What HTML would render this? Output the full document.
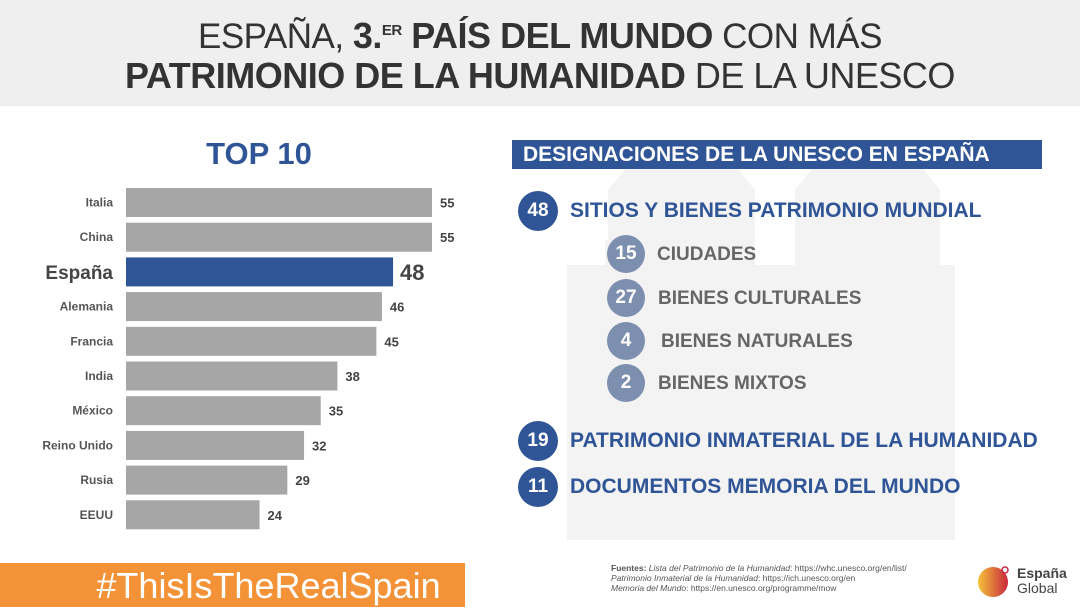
<!DOCTYPE html>
<html><head><meta charset="utf-8"><style>
*{margin:0;padding:0;box-sizing:border-box}
body{width:1080px;height:607px;overflow:hidden;background:#fff;font-family:"Liberation Sans",sans-serif;position:relative}
.abs{position:absolute}
.hdr{left:0;top:0;width:1080px;height:106px;background:#efefef}
.t{width:1080px;text-align:center;color:#333;font-size:36px;letter-spacing:-0.5px}
.circ{border-radius:50%;color:#fff;font-weight:bold;text-align:center;font-size:19px}
.big{width:40px;height:40px;line-height:40px;background:#2f5597}
.sm{width:38px;height:38px;line-height:38px;background:#7d8fae}
.lb{font-weight:bold;font-size:19px}
.lbb{font-weight:bold;font-size:21px;color:#2f5597}
</style></head><body>
<div class="abs hdr"></div>
<div class="abs t" style="top:15px"><span style="font-size:35px">ESPAÑA, </span><b>3.<sup style="font-size:15px">ER</sup> PAÍS DEL MUNDO</b><span style="font-size:35px"> CON MÁS</span></div>
<div class="abs t" style="top:55px;font-weight:bold">PATRIMONIO DE LA HUMANIDAD <span style="font-weight:normal">DE LA UNESCO</span></div>

<svg class="abs" style="left:0;top:0" width="1080" height="607">
<g fill="#f3f3f3">
<path d="M567 265 L605 265 L605 240 L650 240 L650 265 L700 265 L700 240 L745 240 L745 265 L800 265 L800 240 L845 240 L845 265 L955 265 L955 540 L567 540 Z"/>
<path d="M608 190 L650 140 L715 140 L755 190 L755 265 L608 265 Z"/>
<path d="M795 190 L835 140 L900 140 L940 190 L940 265 L795 265 Z"/>
</g>
</svg>

<div class="abs" style="left:0;top:136px;width:518px;text-align:center;font-size:31px;font-weight:bold;color:#2f5597">TOP 10</div>
<svg class="abs" id="chart" style="left:0;top:0" width="520" height="560"></svg>

<div class="abs" style="left:512px;top:140px;width:530px;height:29px;background:#2f5597;color:#fff;font-weight:bold;font-size:21px;line-height:29px;padding-left:11px">DESIGNACIONES DE LA UNESCO EN ESPAÑA</div>

<div class="abs circ big" style="left:518px;top:191px">48</div>
<div class="abs lbb" style="left:570px;top:199px">SITIOS Y BIENES PATRIMONIO MUNDIAL</div>
<div class="abs circ sm" style="left:607px;top:235px">15</div>
<div class="abs lb" style="left:657px;top:244px;color:#666">CIUDADES</div>
<div class="abs circ sm" style="left:607px;top:279px">27</div>
<div class="abs lb" style="left:658px;top:288px;color:#666">BIENES CULTURALES</div>
<div class="abs circ sm" style="left:607px;top:322px">4</div>
<div class="abs lb" style="left:661px;top:331px;color:#666">BIENES NATURALES</div>
<div class="abs circ sm" style="left:607px;top:364px">2</div>
<div class="abs lb" style="left:658px;top:373px;color:#666">BIENES MIXTOS</div>
<div class="abs circ big" style="left:518px;top:421px">19</div>
<div class="abs lbb" style="left:570px;top:429px">PATRIMONIO INMATERIAL DE LA HUMANIDAD</div>
<div class="abs circ big" style="left:518px;top:467px">11</div>
<div class="abs lbb" style="left:570px;top:475px">DOCUMENTOS MEMORIA DEL MUNDO</div>

<div class="abs" style="left:0;top:563px;width:465px;height:44px;background:#f39236;color:#fff;font-size:36px;line-height:46px;text-align:center;padding-left:72px">#ThisIsTheRealSpain</div>
<div class="abs" style="left:611px;top:563px;font-size:8.5px;line-height:10px;color:#555"><b>Fuentes:</b> <i>Lista del Patrimonio de la Humanidad</i>: https://whc.unesco.org/en/list/<br><i>Patrimonio Inmaterial de la Humanidad</i>: https://ich.unesco.org/en<br><i>Memoria del Mundo</i>: https://en.unesco.org/programme/mow</div>
<svg class="abs" style="left:975px;top:562px" width="40" height="40">
<defs><linearGradient id="g" x1="0" x2="1"><stop offset="0" stop-color="#f6c23a"/><stop offset="1" stop-color="#c8283c"/></linearGradient></defs>
<circle cx="18" cy="20" r="15" fill="url(#g)"/><circle cx="30" cy="8" r="3" fill="none" stroke="#c8283c" stroke-width="1.5"/></svg>
<div class="abs" style="left:1017px;top:566px;font-size:14px;line-height:15px;color:#444"><b>España</b><br>Global</div>

<script>
const countries=["Italia","China","España","Alemania","Francia","India","México","Reino Unido","Rusia","EEUU"];
const values=[55,55,48,46,45,38,35,32,29,24];
const x0=126, pxPerUnit=(432-126)/55, y0=188, step=34.7, bh=29;
const xs=v=>x0+v*pxPerUnit, ys=i=>y0+i*step;
const svg=document.getElementById('chart'), NS="http://www.w3.org/2000/svg";
countries.forEach((c,i)=>{
 const hi=c==="España";
 const r=document.createElementNS(NS,'rect');
 r.setAttribute('x',x0);r.setAttribute('y',ys(i));r.setAttribute('width',xs(values[i])-x0);r.setAttribute('height',bh);
 r.setAttribute('fill',hi?'#2f5597':'#a6a6a6');
 
 
 svg.appendChild(r);
 const l=document.createElementNS(NS,'text');
 l.setAttribute('x',x0-13);l.setAttribute('y',ys(i)+bh/2+(hi?7:4));l.setAttribute('text-anchor','end');
 l.setAttribute('font-size',hi?19:12);l.setAttribute('font-weight','bold');l.setAttribute('fill',hi?'#444':'#555');
 l.textContent=c;
 
 
 svg.appendChild(l);
 const v=document.createElementNS(NS,'text');
 v.setAttribute('x',xs(values[i])+(hi?7:8));v.setAttribute('y',ys(i)+bh/2+(hi?8:5));
 v.setAttribute('font-size',hi?22:13);v.setAttribute('font-weight','bold');v.setAttribute('fill','#444');
 v.textContent=values[i];
 
 
 svg.appendChild(v);
});
</script>
</body></html>
